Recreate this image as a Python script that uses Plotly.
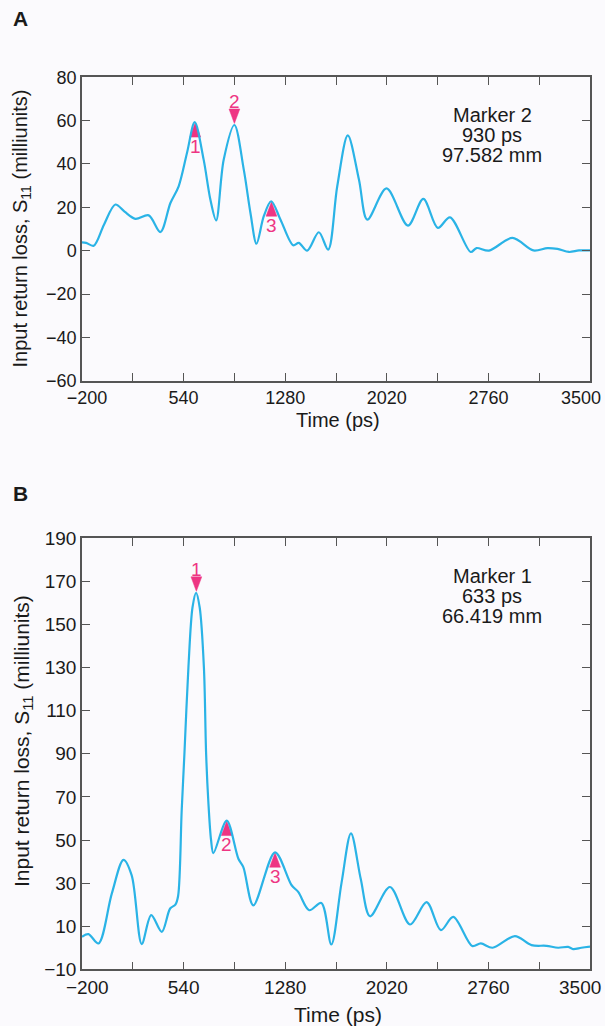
import plotly.graph_objects as go

W, H = 605, 1026

# ---------------- data ----------------
# Panel A
a_time = [-200, -170, -115, -40, 43, 110, 189, 286, 371, 444, 504, 565, 621, 686, 735,
          777, 832, 910, 978, 1027, 1071, 1124, 1178, 1246, 1338, 1379, 1440, 1525, 1593,
          1659, 1736, 1817, 1878, 2018, 2174, 2286, 2392, 2480, 2631, 2674, 2764, 2935,
          3088, 3190, 3263, 3347, 3420, 3500]
a_s11 = [3.8, 3.6, 2.3, 12.0, 21.3, 18.0, 14.7, 16.3, 8.6, 22.0, 29.7, 45.2, 59.3, 42.0, 23.6,
         14.0, 42.0, 58.0, 37.5, 17.4, 3.2, 15.9, 22.8, 14.3, 2.5, 3.6, 0.0, 8.5, 0.5,
         29.7, 53.2, 32.8, 14.3, 28.7, 11.6, 23.9, 10.5, 15.4, -0.6, 1.2, 0.0, 5.9,
         0.1, 1.2, 0.8, -0.6, 0.1, 0.1]
a_marker_time = [625, 910, 1180]
a_marker_s11 = [59.3, 58.0, 22.8]
a_marker_dir = ["up", "down", "up"]
a_marker_label = ["1", "2", "3"]
a_readout = ["Marker 2", "930 ps", "97.582 mm"]

# Panel B
b_time = [-200, -153, -80, 17, 102, 162, 235, 304, 381, 442, 480, 500, 526, 546, 575, 605,
          631, 657, 688, 704, 720, 740, 757, 854, 939, 975, 1048, 1206, 1327, 1376, 1455,
          1543, 1616, 1690, 1759, 1830, 1898, 2043, 2189, 2310, 2414, 2504, 2642, 2705, 2790,
          2953, 3074, 3183, 3268, 3341, 3377, 3437, 3500]
b_s11 = [5.1, 6.3, 2.0, 25.1, 40.8, 33.6, 1.7, 15.1, 7.4, 18.2, 20.0, 24.0, 63.6, 90.0, 130.0, 158.0,
         164.7, 158.0, 130.0, 90.0, 68.0, 50.0, 43.9, 59.0, 41.3, 37.4, 19.7, 44.3, 29.0, 25.8, 17.4,
         20.8, 1.5, 30.0, 53.1, 32.0, 14.6, 28.2, 10.8, 21.2, 8.2, 14.3, 0.8, 2.0, 0.0,
         5.4, 1.2, 0.9, 0.0, 0.4, -0.6, 0.0, 0.5]
b_marker_time = [633, 854, 1206]
b_marker_s11 = [164.7, 59.0, 44.3]
b_marker_dir = ["down", "up", "up"]
b_marker_label = ["1", "2", "3"]
b_readout = ["Marker 1", "633 ps", "66.419 mm"]

# Axes
x_labeled_ticks = [-200, 540, 1280, 2020, 2760]
x_end_tick = 3500
x_minor_ticks = [170, 910, 1650, 2390, 3130, 3500]
a_y_ticks = [-60, -40, -20, 0, 20, 40, 60, 80]
b_y_ticks = [-10, 10, 30, 50, 70, 90, 110, 130, 150, 170, 190]

# ---------------- layout geometry (pixels) ----------------
X_LEFT, X_RIGHT = 82, 590
A_TOP, A_BOT = 77.3, 380.7
B_TOP, B_BOT = 538.3, 969.3
X_RANGE = [-200, 3500]
A_RANGE = [-60, 80]
B_RANGE = [-10, 190]

FONT = "Liberation Sans, Arial, Helvetica, sans-serif"
CURVE = "#2ab3e6"
PINK = "#ee3583"
AXC = "#555555"
TXT = "#1a1a1a"
BG = "#fbfafd"
NB = "\u00a0"


def px(x):
    return x / W


def py(y):
    return 1 - y / H


def tick_text(v):
    return ("\u2212" + str(-v)) if v < 0 else str(v)


def x_tick_text(v):
    s = tick_text(v)
    if v == X_RANGE[0]:
        return NB * 2 + s
    return s


fig = go.Figure()

ps_per_px = (X_RANGE[1] - X_RANGE[0]) / (X_RIGHT - X_LEFT)


def add_panel(times, vals, mt, mv, mdir, mlab, readout, yr, top, bot, xa, ya, xref, yref,
              title_fs, title_y, title_x, xtitle_y, tick_fs, ticklab_y):
    units_per_px = (yr[1] - yr[0]) / (bot - top)
    half_w = 5.4 * ps_per_px
    tri_h = 14.5 * units_per_px
    gap = 1.5 * units_per_px
    # triangles
    for t, v, d in zip(mt, mv, mdir):
        if d == "up":
            apex = v - gap * 0.3
            base = apex - tri_h
        else:
            apex = v + gap
            base = apex + tri_h
        fig.add_trace(go.Scatter(
            x=[t - half_w, t + half_w, t, t - half_w],
            y=[base, base, apex, base],
            mode="lines", fill="toself", fillcolor=PINK,
            line=dict(color=PINK, width=0.5),
            xaxis=xa, yaxis=ya, showlegend=False, hoverinfo="skip"))
    # curve
    fig.add_trace(go.Scatter(
        x=times, y=vals, mode="lines",
        line=dict(color=CURVE, width=2.2, shape="spline", smoothing=0.9),
        xaxis=xa, yaxis=ya, showlegend=False))
    # marker labels
    for t, v, d, lab in zip(mt, mv, mdir, mlab):
        fig.add_annotation(
            x=t, y=v, xref=xref, yref=yref, text=lab, showarrow=False,
            yshift=(-24 if d == "up" else 23),
            font=dict(family=FONT, size=19, color=PINK),
            xanchor="center", yanchor="middle")
    # readout
    for i, line in enumerate(readout):
        fig.add_annotation(
            x=px(492), y=py(top + 37.5 + 20 * i), xref="paper", yref="paper",
            text=line, showarrow=False, xanchor="center", yanchor="middle",
            font=dict(family=FONT, size=20, color=TXT))
    # last x tick label, pulled inside the page edge as in the reference
    fig.add_annotation(
        x=px(603), y=py(ticklab_y), xref="paper", yref="paper",
        text=tick_text(x_end_tick), showarrow=False, xanchor="right", yanchor="middle",
        font=dict(family=FONT, size=tick_fs, color=TXT))
    # y title
    fig.add_annotation(
        x=px(title_x), y=py(title_y), xref="paper", yref="paper",
        text="Input return loss, S<sub>11</sub> (milliunits)", showarrow=False,
        textangle=-90, xanchor="center", yanchor="middle",
        font=dict(family=FONT, size=title_fs, color=TXT))
    # x title
    fig.add_annotation(
        x=px((X_LEFT + X_RIGHT) / 2 + 2), y=py(xtitle_y), xref="paper", yref="paper",
        text="Time (ps)", showarrow=False, xanchor="center", yanchor="middle",
        font=dict(family=FONT, size=title_fs, color=TXT))


add_panel(a_time, a_s11, a_marker_time, a_marker_s11, a_marker_dir, a_marker_label,
          a_readout, A_RANGE, A_TOP, A_BOT, "x", "y", "x", "y",
          title_fs=20, title_y=229, title_x=20.5, xtitle_y=420, tick_fs=18, ticklab_y=398)
add_panel(b_time, b_s11, b_marker_time, b_marker_s11, b_marker_dir, b_marker_label,
          b_readout, B_RANGE, B_TOP, B_BOT, "x2", "y2", "x2", "y2",
          title_fs=21, title_y=741, title_x=23, xtitle_y=1014, tick_fs=19, ticklab_y=987)

# empty traces so the right-hand mirror axes are drawn
fig.add_trace(go.Scatter(x=[], y=[], xaxis="x", yaxis="y3", showlegend=False))
fig.add_trace(go.Scatter(x=[], y=[], xaxis="x2", yaxis="y4", showlegend=False))

# panel letters
for lab, yy in [("A", 18), ("B", 493)]:
    fig.add_annotation(x=px(11), y=py(yy), xref="paper", yref="paper", text="<b>%s</b>" % lab,
                       showarrow=False, xanchor="left", yanchor="middle",
                       font=dict(family=FONT, size=21, color=TXT))

axis_common = dict(showline=True, ticks="inside", ticklen=8,
                   linecolor=AXC, linewidth=1.5, tickcolor=AXC, tickwidth=1.3,
                   showgrid=False, zeroline=False, automargin=False)
x_minor = dict(tickvals=x_minor_ticks, ticks="inside", ticklen=8, tickcolor=AXC,
               tickwidth=1.3, showgrid=False)


def tfont(s):
    return dict(family=FONT, size=s, color=TXT)


fig.update_layout(
    width=W, height=H,
    margin=dict(l=0, r=0, t=0, b=0, pad=0),
    paper_bgcolor=BG, plot_bgcolor=BG,
    showlegend=False,
    xaxis=dict(domain=[px(X_LEFT), px(X_RIGHT)], range=X_RANGE, anchor="y", mirror="ticks",
               tickmode="array", tickvals=x_labeled_ticks, ticklabeloverflow="allow",
               ticktext=[x_tick_text(v) for v in x_labeled_ticks], minor=x_minor,
               tickfont=tfont(18), **axis_common),
    yaxis=dict(domain=[py(A_BOT), py(A_TOP)], range=A_RANGE, anchor="x", mirror="ticks",
               tickmode="array", tickvals=a_y_ticks, tickfont=tfont(18),
               ticktext=[tick_text(v) for v in a_y_ticks], **axis_common),
    yaxis3=dict(range=A_RANGE, anchor="x", overlaying="y", side="right",
                tickmode="array", tickvals=a_y_ticks, showticklabels=False, **axis_common),
    xaxis2=dict(domain=[px(X_LEFT), px(X_RIGHT)], range=X_RANGE, anchor="y2", mirror="ticks",
                tickmode="array", tickvals=x_labeled_ticks, ticklabeloverflow="allow",
                ticktext=[x_tick_text(v) for v in x_labeled_ticks], minor=x_minor,
                tickfont=tfont(19), **axis_common),
    yaxis2=dict(domain=[py(B_BOT), py(B_TOP)], range=B_RANGE, anchor="x2", mirror="ticks",
                tickmode="array", tickvals=b_y_ticks, tickfont=tfont(19),
                ticktext=[tick_text(v) for v in b_y_ticks], **axis_common),
    yaxis4=dict(range=B_RANGE, anchor="x2", overlaying="y2", side="right",
                tickmode="array", tickvals=b_y_ticks, showticklabels=False, **axis_common),
)

fig.write_html(
    "out.html",
    config={"displayModeBar": False},
    post_script="document.body.style.margin='0';document.body.style.overflow='hidden';",
)
